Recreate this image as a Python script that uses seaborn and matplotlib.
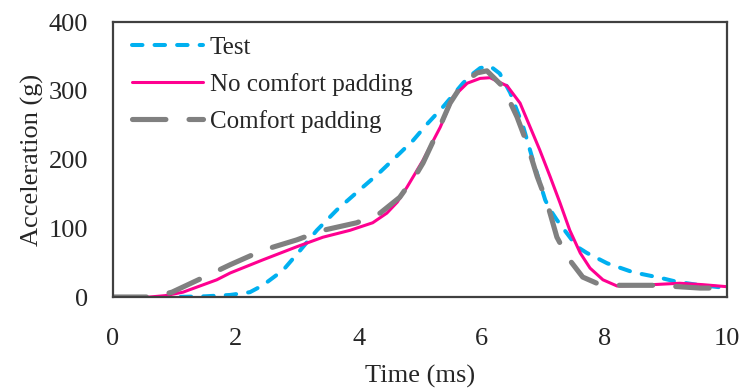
import numpy as np
import pandas as pd
import matplotlib
matplotlib.use('Agg')
import matplotlib.pyplot as plt
import seaborn as sns

# values (time in ms, acceleration in g)
test_t = [0, 0.5, 1.0, 1.5, 1.91, 2.23, 2.44, 2.77, 3.05, 3.32, 3.65, 4.02, 4.33,
          4.67, 4.89, 5.12, 5.37, 5.55, 5.70, 5.85, 5.98, 6.14, 6.30, 6.47, 6.68,
          6.84, 7.04, 7.12, 7.23, 7.39, 7.56, 7.72, 8.05, 8.47, 8.91, 9.19, 9.5, 10.0]
test_g = [0, 0, 0, 1, 3, 7, 17, 39, 68, 97, 127, 156, 180,
          209, 228, 252, 276, 295, 311, 324, 333, 336, 325, 297, 248,
          199, 141, 127, 112, 93, 73, 64, 49, 36, 28, 22, 18, 13]

nopad_t = [0, 0.6, 0.85, 1.14, 1.69, 1.91, 2.44, 2.99, 3.42, 3.86, 4.23, 4.46, 4.63,
           4.79, 5.05, 5.33, 5.54, 5.77, 5.98, 6.14, 6.42, 6.63, 6.79, 6.95, 7.12,
           7.28, 7.44, 7.61, 7.77, 7.98, 8.21, 8.58, 9.23, 9.6, 10.0]
nopad_g = [0, 0, 2, 7, 25, 35, 54, 73, 87, 97, 108, 122, 138,
           160, 199, 247, 291, 311, 318, 319, 307, 282, 248, 214, 175,
           137, 97, 64, 42, 25, 16, 17, 20, 18, 15]

pad_t = [0, 0.4, 0.65, 0.96, 1.58, 1.91, 2.44, 2.99, 3.42, 3.97, 4.35, 4.67, 4.95,
         5.05, 5.28, 5.49, 5.70, 5.93, 6.09, 6.35, 6.58, 6.74, 6.91, 7.07, 7.23,
         7.41, 7.65, 7.88, 8.26, 8.86, 9.56, 10.0]
pad_g = [0, 0, 0, 7, 33, 47, 68, 83, 97, 108, 122, 145, 180,
         195, 239, 282, 311, 326, 329, 306, 262, 224, 175, 137, 87,
         57, 29, 20, 17, 17, 13, 13]

series_names = ['Test', 'No comfort padding', 'Comfort padding']

sns.set_style('white')
plt.rcParams['font.family'] = ['Liberation Serif', 'DejaVu Serif']

fig = plt.figure(figsize=(7.4, 3.91), dpi=100)
ax = fig.add_axes([0.1527, 0.2404, 0.8297, 0.7033])

sns.lineplot(x=test_t, y=test_g, ax=ax, color='#00B0F0', lw=2.9,
             label=series_names[0])
ax.lines[-1].set_dashes([2.6, 3.0])
sns.lineplot(x=nopad_t, y=nopad_g, ax=ax, color='#FF0090', lw=2.2,
             label=series_names[1])
sns.lineplot(x=pad_t, y=pad_g, ax=ax, color='#808080', lw=3.7,
             label=series_names[2])
ax.lines[-1].set_dashes([6.5, 4.5])
for ln in ax.lines:
    ln.set_dash_capstyle('round')
    ln.set_solid_joinstyle('round')
    ln.set_dash_joinstyle('round')

ax.set_xlim(0, 10)
ax.set_ylim(0, 400)
ax.set_xticks([0, 2, 4, 6, 8, 10])
ax.set_yticks([0, 100, 200, 300, 400])
ax.tick_params(labelsize=19, length=0)
ax.tick_params(axis='x', pad=22)
ax.tick_params(axis='y', pad=18)
ax.set_xlabel('Time (ms)', fontsize=19, labelpad=11)
ax.set_ylabel('Acceleration (g)', fontsize=19, labelpad=3)
for sp in ax.spines.values():
    sp.set_color('#404040')
    sp.set_linewidth(1.6)

ax.legend(loc='upper left', frameon=False, fontsize=18, handlelength=2.85,
          handletextpad=0.25, labelspacing=0.56, borderaxespad=0.0,
          borderpad=0.57, bbox_to_anchor=(0.008, 1.0))

fig.savefig('out.png', dpi=100)
